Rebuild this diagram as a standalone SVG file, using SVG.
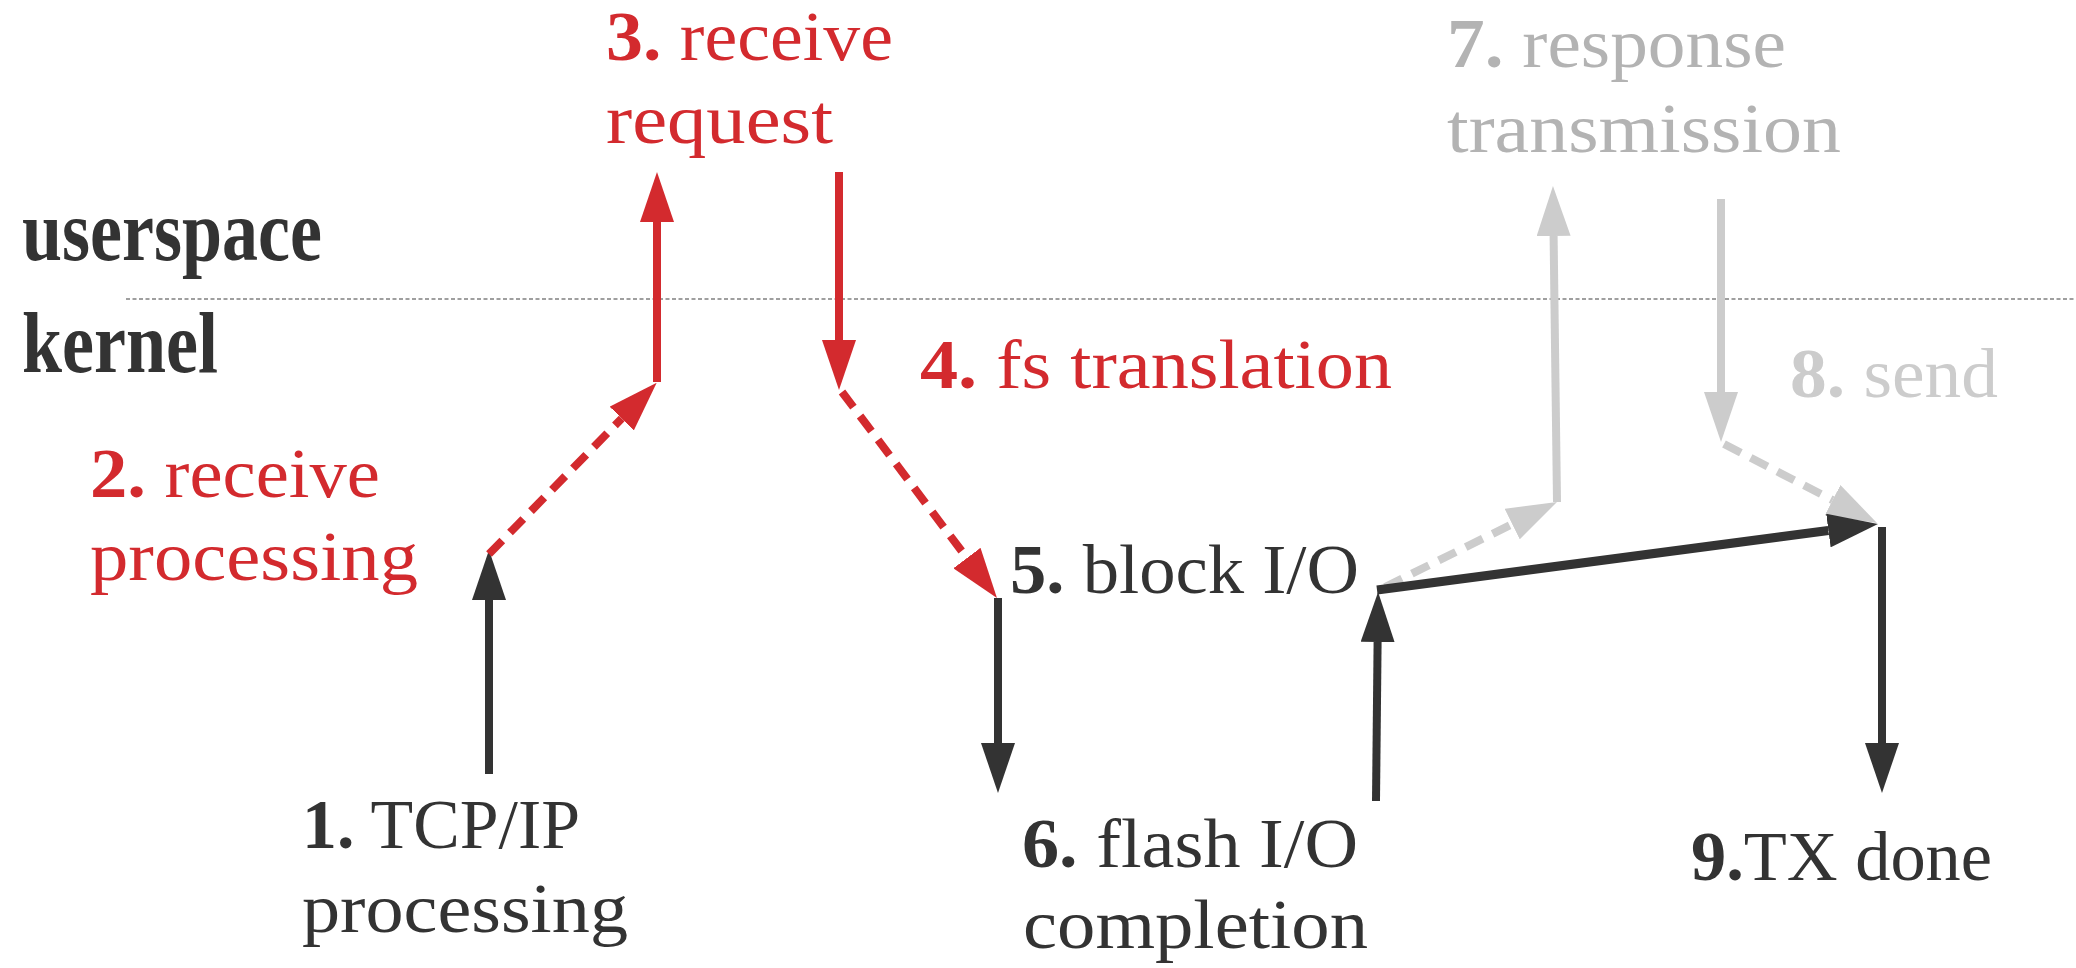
<svg xmlns="http://www.w3.org/2000/svg" width="2076" height="968" viewBox="0 0 2076 968">
  <style>
    text { font-family: "Liberation Serif", "DejaVu Serif", serif; font-size: 70px; }
    .num { font-weight: bold; }
    .red { fill: #d32a2e; }
    .dark { fill: #333333; }
    .grey1 { fill: #b3b3b3; }
    .grey2 { fill: #cccccc; }
    .layer { font-weight: bold; font-size: 86px; fill: #333333; }
    .ln { fill: none; stroke-width: 8; }
    .ln-red { stroke: #d32a2e; }
    .ln-dark { stroke: #333333; }
    .ln-grey { stroke: #cccccc; }
    .dash { stroke-dasharray: 19 11; }
  </style>
  <defs>
    <marker id="head-red" markerUnits="userSpaceOnUse" markerWidth="50" markerHeight="34" viewBox="0 0 50 34" refX="0" refY="17" orient="auto">
      <path d="M0,0 L50,17 L0,34 z" fill="#d32a2e"/>
    </marker>
    <marker id="head-dark" markerUnits="userSpaceOnUse" markerWidth="50" markerHeight="34" viewBox="0 0 50 34" refX="0" refY="17" orient="auto">
      <path d="M0,0 L50,17 L0,34 z" fill="#333333"/>
    </marker>
    <marker id="head-grey" markerUnits="userSpaceOnUse" markerWidth="50" markerHeight="34" viewBox="0 0 50 34" refX="0" refY="17" orient="auto">
      <path d="M0,0 L50,17 L0,34 z" fill="#cccccc"/>
    </marker>
  </defs>

  <!-- userspace / kernel boundary -->
  <g id="boundary">
    <line x1="126" y1="299" x2="2076" y2="299" stroke="#808080" stroke-width="1.6" stroke-dasharray="4 2.5"/>
    <text class="layer" x="22" y="260" textLength="300" lengthAdjust="spacingAndGlyphs">userspace</text>
    <text class="layer" x="22" y="372" textLength="196" lengthAdjust="spacingAndGlyphs">kernel</text>
  </g>

  <!-- connectors (grey first so the dark ones sit on top) -->
  <g id="connectors">
    <path class="ln ln-grey dash" d="M1385,587 L1512.2,524.1" marker-end="url(#head-grey)"/>
    <path class="ln ln-grey" d="M1557,502 L1553.6,236" marker-end="url(#head-grey)"/>
    <path class="ln ln-grey" d="M1721,199 V392" marker-end="url(#head-grey)"/>
    <path class="ln ln-grey dash" d="M1724,444 L1832.6,500.1" marker-end="url(#head-grey)"/>

    <path class="ln ln-dark" d="M489,774 V600" marker-end="url(#head-dark)"/>
    <path class="ln ln-red dash" d="M489,554 L621.7,418.5" marker-end="url(#head-red)"/>
    <path class="ln ln-red" d="M657,382 V222" marker-end="url(#head-red)"/>
    <path class="ln ln-red" d="M839,172 V340" marker-end="url(#head-red)"/>
    <path class="ln ln-red dash" d="M842,392 L966.9,558" marker-end="url(#head-red)"/>
    <path class="ln ln-dark" d="M998,598 V743" marker-end="url(#head-dark)"/>
    <path class="ln ln-dark" d="M1376,801 L1377.6,642" marker-end="url(#head-dark)"/>
    <path class="ln ln-dark" style="stroke-width:9" d="M1377,590 L1828.4,530.5" marker-end="url(#head-dark)"/>
    <path class="ln ln-dark" d="M1882,527 V743" marker-end="url(#head-dark)"/>
  </g>

  <g id="n1">
    <text class="dark" x="302" y="848" textLength="278" lengthAdjust="spacingAndGlyphs"><tspan class="num">1.</tspan> TCP/IP</text>
    <text class="dark" x="302" y="932" textLength="326" lengthAdjust="spacingAndGlyphs">processing</text>
  </g>
  <g id="n2">
    <text class="red" x="90" y="497" textLength="290" lengthAdjust="spacingAndGlyphs"><tspan class="num">2.</tspan> receive</text>
    <text class="red" x="90" y="580" textLength="328" lengthAdjust="spacingAndGlyphs">processing</text>
  </g>
  <g id="n3">
    <text class="red" x="606" y="60" textLength="287" lengthAdjust="spacingAndGlyphs"><tspan class="num">3.</tspan> receive</text>
    <text class="red" x="606" y="143" textLength="227" lengthAdjust="spacingAndGlyphs">request</text>
  </g>
  <g id="n4">
    <text class="red" x="920" y="388" textLength="472" lengthAdjust="spacingAndGlyphs"><tspan class="num">4.</tspan> fs translation</text>
  </g>
  <g id="n5">
    <text class="dark" x="1010" y="593" textLength="349" lengthAdjust="spacingAndGlyphs"><tspan class="num">5.</tspan> block I/O</text>
  </g>
  <g id="n6">
    <text class="dark" x="1022" y="867" textLength="336" lengthAdjust="spacingAndGlyphs"><tspan class="num">6.</tspan> flash I/O</text>
    <text class="dark" x="1023" y="948" textLength="345" lengthAdjust="spacingAndGlyphs">completion</text>
  </g>
  <g id="n7">
    <text class="grey1" x="1447" y="67" textLength="339" lengthAdjust="spacingAndGlyphs"><tspan class="num">7.</tspan> response</text>
    <text class="grey1" x="1447" y="152" textLength="394" lengthAdjust="spacingAndGlyphs">transmission</text>
  </g>
  <g id="n8">
    <text class="grey2" x="1790" y="397" textLength="208" lengthAdjust="spacingAndGlyphs"><tspan class="num">8.</tspan> send</text>
  </g>
  <g id="n9">
    <text class="dark" x="1691" y="880" textLength="301" lengthAdjust="spacingAndGlyphs"><tspan class="num">9.</tspan>TX done</text>
  </g>
</svg>
